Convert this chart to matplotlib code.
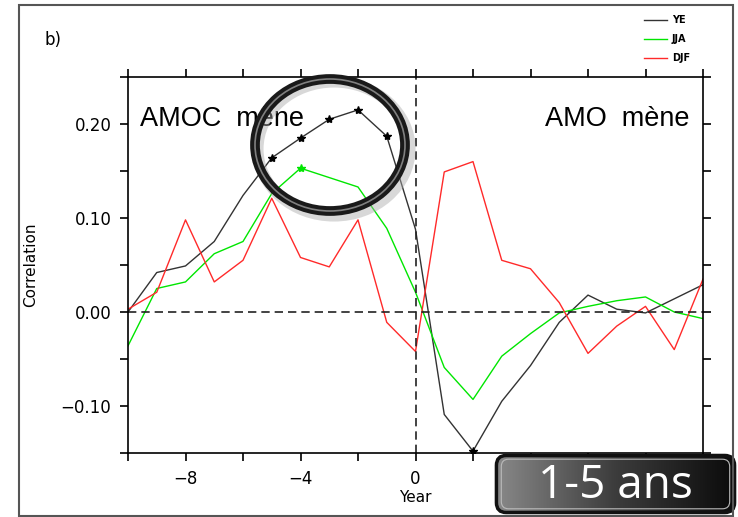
import numpy as np
import matplotlib
matplotlib.use("Agg")
import matplotlib.pyplot as plt
from matplotlib.patches import Ellipse, Rectangle, FancyBboxPatch
from matplotlib.colors import LinearSegmentedColormap
from matplotlib.ticker import MultipleLocator, FixedLocator

# lag (years) and correlations
years = [-10, -9, -8, -7, -6, -5, -4, -3, -2, -1, 0, 1, 2, 3, 4, 5, 6, 7, 8, 9, 10]
ye = [0.000, 0.042, 0.049, 0.075, 0.124, 0.164, 0.185, 0.205, 0.215, 0.187, 0.088,
      -0.109, -0.148, -0.095, -0.057, -0.011, 0.018, 0.003, -0.001, 0.014, 0.029]
jja = [-0.036, 0.025, 0.032, 0.062, 0.075, 0.126, 0.153, 0.143, 0.133, 0.089, 0.021,
       -0.059, -0.093, -0.047, -0.023, -0.001, 0.006, 0.012, 0.016, 0.000, -0.007]
djf = [0.003, 0.021, 0.098, 0.032, 0.055, 0.121, 0.058, 0.048, 0.098, -0.011, -0.042,
       0.149, 0.160, 0.055, 0.046, 0.010, -0.044, -0.015, 0.006, -0.040, 0.035]
ye_sig = [-5, -4, -3, -2, -1, 2]   # starred points
jja_sig = [-4]

W, H = 738, 517
fig = plt.figure(figsize=(W / 100, H / 100), dpi=100)

def fx(x):
    return x / W

def fy(y):
    return 1 - y / H

ax = fig.add_axes([fx(128), fy(453), fx(703) - fx(128), fy(77) - fy(453)])

ax.plot(years, ye, color='#333333', lw=1.0)
ax.plot(years, jja, color='#00e600', lw=1.0)
ax.plot(years, djf, color='#ff2a2a', lw=1.0)
ax.plot(ye_sig, [ye[years.index(v)] for v in ye_sig], ls='none', marker='*', ms=6, color='black')
ax.plot(jja_sig, [jja[years.index(v)] for v in jja_sig], ls='none', marker='*', ms=6, color='#00e600')

ax.axhline(0, color='#222222', lw=1.2, ls=(0, (5, 3)))
ax.axvline(0, color='#222222', lw=1.2, ls=(0, (5, 3)))

ax.set_xlim(-10, 10)
ax.set_ylim(-0.15, 0.25)
# labels at 4 and 8 are hidden behind the badge in the original
ax.xaxis.set_major_locator(FixedLocator([-8, -4, 0]))
ax.xaxis.set_minor_locator(MultipleLocator(2))
ax.yaxis.set_major_locator(FixedLocator([-0.1, 0.0, 0.1, 0.2]))
ax.yaxis.set_minor_locator(MultipleLocator(0.05))
ax.set_xticklabels(['\u22128', '\u22124', '0'])
ax.set_yticklabels(['\u22120.10', '0.00', '0.10', '0.20'])
ax.tick_params(which='both', direction='out', length=6, width=1.2,
               top=True, right=True, labelsize=12, pad=6)
for s in ax.spines.values():
    s.set_linewidth(1.2)
ax.set_ylabel('Correlation', fontsize=11, labelpad=16)
ax.set_xlabel('Year', fontsize=11, labelpad=2)

ax.text(0.02, 0.87, 'AMOC  m\u00e8ne', transform=ax.transAxes, fontsize=19.5,
        family='Liberation Sans', va='baseline')
ax.text(0.977, 0.87, 'AMO  m\u00e8ne', transform=ax.transAxes, fontsize=19.5,
        family='Liberation Sans', va='baseline', ha='right')

# legend drawn at top right
leg_items = [('YE', '#333333'), ('JJA', '#00e600'), ('DJF', '#ff2a2a')]
for i, (lab, col) in enumerate(leg_items):
    yy = fy(20 + 19 * i)
    fig.add_artist(plt.Line2D([fx(644), fx(667)], [yy, yy], color=col, lw=1.0))
    fig.text(fx(672), yy, lab, fontsize=7, weight='bold', va='center')

fig.text(fx(45), fy(40), 'b)', fontsize=12, va='center')

# outer frame
fig.add_artist(Rectangle((fx(19), fy(516)), fx(733) - fx(19), fy(5) - fy(516),
                         fill=False, ec='#555555', lw=1.5, transform=fig.transFigure))

# magnifier ring
fig.add_artist(Ellipse((fx(334), fy(149)), fx(152), 134 / H, fill=False,
                       ec='#aaaaaa', lw=8, alpha=0.45, transform=fig.transFigure))
fig.add_artist(Ellipse((fx(330), fy(145)), fx(150), 132 / H, fill=False,
                       ec='#1a1a1a', lw=7, transform=fig.transFigure))
fig.add_artist(Ellipse((fx(330), fy(145)), fx(150), 132 / H, fill=False,
                       ec='#808080', lw=1.2, transform=fig.transFigure))

# badge
bax = fig.add_axes([fx(494), fy(515), fx(737) - fx(494), fy(453) - fy(515)])
bax.set_axis_off()
grad = np.linspace(0, 1, 256).reshape(1, -1)
cmap = LinearSegmentedColormap.from_list('badge', ['#8a8a8a', '#3c3c3c', '#0a0a0a'])
im = bax.imshow(grad, cmap=cmap, extent=[0, 1, 0, 1], aspect='auto')
outer = FancyBboxPatch((0.01, 0.04), 0.98, 0.92, boxstyle='round,pad=0,rounding_size=0.04',
                       transform=bax.transAxes, fc='none', ec='#111111', lw=2.5,
                       mutation_aspect=4)
bax.add_patch(outer)
im.set_clip_path(outer)
bax.add_patch(FancyBboxPatch((0.03, 0.1), 0.94, 0.8, boxstyle='round,pad=0,rounding_size=0.03',
                             transform=bax.transAxes, fc='none', ec='#bbbbbb', lw=0.8,
                             mutation_aspect=4))
bax.text(0.5, 0.47, '1-5 ans', transform=bax.transAxes, color='white', fontsize=33,
         family='Open Sans', ha='center', va='center')
bax.set_xlim(0, 1)
bax.set_ylim(0, 1)

fig.savefig('out.png', dpi=100)
